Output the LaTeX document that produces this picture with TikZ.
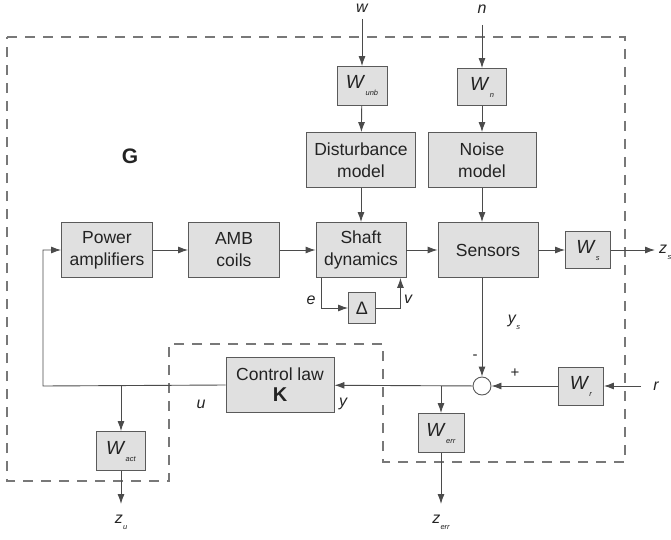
\documentclass[tikz,border=0pt]{standalone}
\usepackage{fontspec}
\setmainfont{Liberation Sans}
\usetikzlibrary{arrows.meta}
\definecolor{boxfill}{RGB}{224,224,224}
\definecolor{boxline}{RGB}{90,90,90}
\definecolor{wire}{RGB}{75,75,75}
\definecolor{ink}{RGB}{35,35,35}
\definecolor{dashc}{RGB}{120,120,120}
\newcommand{\wlab}[1]{\textit{W}\hspace{0.3pt}\raisebox{-7pt}{\fontsize{7.5}{7.5}\selectfont\textit{#1}}}
\newcommand{\sublab}[2]{\textit{#1}\hspace{0.3pt}\raisebox{-6pt}{\fontsize{7.5}{7.5}\selectfont\textit{#2}}}
\begin{document}
\begin{tikzpicture}[x=1pt,y=-1pt,
  blk/.style={draw=boxline, fill=boxfill, line width=0.9pt, inner sep=0pt,
    align=center, text=ink, font=\fontsize{17.5}{22}\selectfont},
  wblk/.style={blk, font=\fontsize{19}{19}\selectfont},
  arr/.style={draw=wire, line width=0.9pt, -{Latex[length=10pt,width=7pt]}},
  lab/.style={text=ink, inner sep=0pt, font=\fontsize{16}{16}\selectfont\itshape},
  dashline/.style={draw=dashc, line width=1.2pt, dash pattern=on 10pt off 8pt}
]
\useasboundingbox (0,0) rectangle (671,540);

% outer dashed region
\draw[dashline] (7,37) -- (625,37) -- (625,462) -- (383,462) -- (383,344)
  -- (169,344) -- (169,481) -- (7,481) -- cycle;

\node[text=ink, font=\fontsize{21}{21}\selectfont\bfseries] (G) at (130,156) {G};

% blocks
\node[wblk, minimum width=50, minimum height=39] (wunb) at (362,86) {\wlab{unb}};
\node[wblk, minimum width=49, minimum height=37] (wn) at (482,87) {\wlab{n}};
\node[blk, minimum width=109, minimum height=55] (dist) at (361,160) {Disturbance\\model};
\node[blk, minimum width=108, minimum height=55] (noise) at (482,160) {Noise\\model};
\node[blk, minimum width=91, minimum height=55] (pa) at (107,250) {Power\\amplifiers};
\node[blk, minimum width=91, minimum height=55] (amb) at (234,250) {AMB\\coils};
\node[blk, minimum width=90, minimum height=55] (shaft) at (361,250) {Shaft\\dynamics};
\node[blk, minimum width=100, minimum height=55] (sens) at (488,250) {Sensors};
\node[wblk, minimum width=45, minimum height=37] (ws) at (588,250) {\wlab{s}};
\node[blk, minimum width=27, minimum height=31, font=\fontsize{18}{18}\selectfont] (delta) at (362,308) {Δ};
\node[blk, minimum width=108, minimum height=55] (K) at (280,385)
  {Control law\\[-1pt]{\fontsize{20}{20}\selectfont\bfseries K}};
\node[draw=boxline, fill=white, line width=0.9pt, circle, minimum size=18, inner sep=0pt] (sum) at (482,386) {};
\node[wblk, minimum width=45, minimum height=38] (wr) at (581,386) {\wlab{r}};
\node[wblk, minimum width=46, minimum height=39] (werr) at (441,433) {\wlab{err}};
\node[wblk, minimum width=49, minimum height=39] (wact) at (121,451) {\wlab{act}};

% external signals
\coordinate (wIn) at (362,19);
\coordinate (nIn) at (482,25);
\coordinate (zsOut) at (655,250);
\coordinate (rIn) at (641,386);
\coordinate (zerrOut) at (441,504);
\coordinate (zuOut) at (121,504);
\coordinate (fbc) at (43,386);

\node[lab] (wl) at (362,8) {w};
\node[lab] (nl) at (482,9) {n};
\node[lab, anchor=west] (zsl) at (659,252) {\sublab{z}{s}};
\node[lab] (rl) at (656,386) {r};
\node[lab] (zerrl) at (441,522) {\sublab{z}{err}};
\node[lab] (zul) at (121,522) {\sublab{z}{u}};
\node[lab] (el) at (311,300) {e};
\node[lab] (vl) at (408,299) {v};
\node[lab] (ul) at (201,404) {u};
\node[lab] (yl) at (343,404) {y};
\node[lab] (ysl) at (514,322) {\sublab{y}{s}};
\node[text=ink, font=\fontsize{15}{15}\selectfont] (minus) at (475,357) {-};
\node[text=ink, font=\fontsize{15}{15}\selectfont] (plus) at (515,373) {+};

% connectors
\draw[arr] (wIn) -- (wunb);
\draw[arr] (wunb) -- (dist);
\draw[arr] (dist) -- (shaft);
\draw[arr] (nIn) -- (wn);
\draw[arr] (wn) -- (noise);
\draw[arr] (noise.south) -- (noise.south |- sens.north);
\draw[arr] (pa) -- (amb);
\draw[arr] (amb) -- (shaft);
\draw[arr] (shaft) -- (sens);
\draw[arr] (sens) -- (ws);
\draw[arr] (ws) -- (zsOut);
\draw[arr] ([xshift=6pt]shaft.south west) |- (delta.west);
\draw[arr] (delta.east) -| ([xshift=-6pt]shaft.south east);
\draw[arr] (sens.south -| sum) -- (sum.north);
\draw[arr] (rIn) -- (wr);
\draw[arr] (wr) -- (sum);
\draw[arr] (sum) -- (K);
\draw[arr] (werr.north |- sum) -- (werr);
\draw[arr] (werr) -- (zerrOut);
\draw[arr] (K.west) -- (fbc) |- (pa.west);
\draw[arr] (wact.north |- K.west) -- (wact);
\draw[arr] (wact) -- (zuOut);
\end{tikzpicture}
\end{document}
